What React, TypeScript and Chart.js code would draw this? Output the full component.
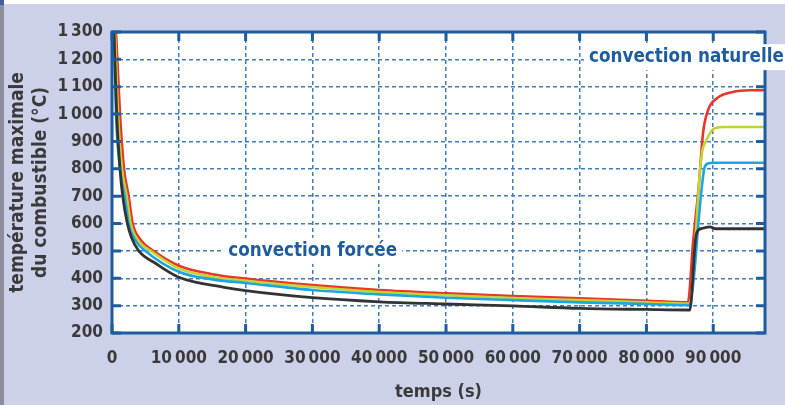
import React, { useEffect, useRef } from "react";
import { Chart, registerables } from "chart.js";

Chart.register(...registerables);

const xTickValues = [0, 10000, 20000, 30000, 40000, 50000, 60000, 70000, 80000, 90000];
const yTickValues = [200, 300, 400, 500, 600, 700, 800, 900, 1000, 1100, 1200, 1300];

const redTimes = [600, 1200, 1800, 2500, 3100, 4300, 6200, 10000, 15000, 20000, 30000, 40000, 50000, 60000, 70000, 80000, 86200, 86980, 87870, 88470, 89220, 90570, 92810, 95510, 97750];
const redTemps = [1300, 1000, 800, 700, 600, 540, 500, 446, 415, 399, 375, 357, 345, 335, 327, 318, 312, 530, 747, 930, 1014, 1058, 1080, 1087, 1087];

const yellowTimes = [450, 900, 1500, 2200, 2800, 4000, 5800, 10000, 15000, 20000, 30000, 40000, 50000, 60000, 70000, 80000, 86500, 87400, 87870, 88300, 89000, 90000, 91500, 97750];
const yellowTemps = [1300, 1000, 800, 700, 600, 535, 500, 436, 405, 391, 368, 350, 338, 328, 320, 312, 308, 564, 747, 856, 905, 945, 953, 953];

const blueTimes = [300, 600, 1200, 1900, 2500, 3600, 5000, 10000, 15000, 20000, 30000, 40000, 50000, 60000, 70000, 80000, 86400, 88300, 88700, 89300, 90000, 97750];
const blueTemps = [1300, 1000, 800, 700, 600, 535, 500, 424, 396, 383, 357, 341, 329, 320, 312, 306, 302, 735, 805, 820, 822, 822];

const blackTimes = [300, 700, 1200, 1600, 2300, 2900, 4000, 6500, 10000, 16600, 20000, 30000, 40000, 50000, 60000, 70000, 80000, 86500, 87300, 87550, 88300, 89500, 90300, 97750];
const blackTemps = [1300, 1000, 800, 700, 600, 550, 500, 455, 404, 368, 355, 329, 314, 306, 299, 290, 286, 284, 530, 567, 582, 588, 581, 581];

const seriesNames = ["noir", "bleu", "jaune", "rouge"];
const seriesColors = ["#333333", "#1ba6e2", "#c3d42f", "#e8362b"];

const forcedLabel = { text: "convection forcée", x: 17400, y: 500 };
const naturalLabel = { text: "convection naturelle", x: 71400, y: 1208 };

const toPoints = (t: number[], v: number[]) => t.map((x, i) => ({ x, y: v[i] }));

const fmt = (v: number) => {
  const s = String(Math.round(v));
  return s.length > 3 ? s.slice(0, s.length - 3) + "\u2009" + s.slice(s.length - 3) : s;
};

const BLUE = "#1d5c9f";
const GRID = "#3f7dbb";
const TEXT = "#3a3a3a";
const FONT = "'DejaVu Sans Condensed', 'DejaVu Sans', sans-serif";

export default function App() {
  const ref = useRef<HTMLCanvasElement>(null);
  useEffect(() => {
    document.body.style.margin = "0";
    const canvas = ref.current!;
    const deco = {
      id: "deco",
      beforeDraw(chart: any) {
        const { ctx, chartArea: a } = chart;
        ctx.save();
        ctx.fillStyle = "#ccd0e9";
        ctx.fillRect(0, 0, chart.width, chart.height);
        ctx.fillStyle = "#ffffff";
        ctx.fillRect(4, 0, chart.width, 4);
        ctx.fillStyle = "#8d8d9b";
        ctx.fillRect(0, 0, 4, chart.height);
        ctx.fillStyle = "#4a5aa8";
        ctx.fillRect(0, 0, 4, 5);
        ctx.fillStyle = "#ffffff";
        ctx.fillRect(a.left, a.top, a.right - a.left, a.bottom - a.top);
        ctx.restore();
      },
      afterDatasetsDraw(chart: any) {
        const { ctx, chartArea: a, scales } = chart;
        const xs = scales.x, ys = scales.y;
        ctx.save();
        ctx.strokeStyle = BLUE;
        ctx.lineWidth = 3;
        ctx.setLineDash([]);
        const L = 9;
        ctx.beginPath();
        xTickValues.forEach((v) => {
          const px = xs.getPixelForValue(v);
          ctx.moveTo(px, a.top); ctx.lineTo(px, a.top + L);
          ctx.moveTo(px, a.bottom); ctx.lineTo(px, a.bottom - L);
        });
        yTickValues.forEach((v) => {
          const py = ys.getPixelForValue(v);
          ctx.moveTo(a.left, py); ctx.lineTo(a.left + L, py);
          ctx.moveTo(a.right, py); ctx.lineTo(a.right - L, py);
        });
        ctx.stroke();
        ctx.strokeRect(a.left, a.top, a.right - a.left, a.bottom - a.top);

        const drawLabel = (lab: any, extendRight: boolean) => {
          ctx.font = `bold 18.7px ${FONT}`;
          const w = ctx.measureText(lab.text).width;
          const px = xs.getPixelForValue(lab.x);
          const py = ys.getPixelForValue(lab.y);
          ctx.fillStyle = "#ffffff";
          const right = extendRight ? chart.width : px + w + 5;
          ctx.fillRect(px - 5, py - 13, right - (px - 5), 26);
          ctx.fillStyle = BLUE;
          ctx.textBaseline = "middle";
          ctx.textAlign = "left";
          ctx.fillText(lab.text, px, py);
        };
        drawLabel(forcedLabel, false);
        drawLabel(naturalLabel, true);
        ctx.restore();
      },
    };

    const datasets = [
      toPoints(blackTimes, blackTemps),
      toPoints(blueTimes, blueTemps),
      toPoints(yellowTimes, yellowTemps),
      toPoints(redTimes, redTemps),
    ].map((data, i) => ({
      label: seriesNames[i],
      data,
      borderColor: seriesColors[i],
      borderWidth: i === 0 ? 2.8 : 2.6,
      pointRadius: 0,
      fill: false,
      cubicInterpolationMode: "monotone" as const,
    }));

    const chart = new Chart(canvas, {
      type: "line",
      data: { datasets },
      options: {
        responsive: false,
        animation: false,
        layout: { padding: { left: 0, top: 32, right: 20, bottom: 0 } },
        plugins: { legend: { display: false }, tooltip: { enabled: false } },
        scales: {
          x: {
            type: "linear",
            min: 0,
            max: 97750,
            afterBuildTicks: (s: any) => { s.ticks = xTickValues.map((value) => ({ value })); },
            afterFit: (s: any) => { s.height = 72; },
            ticks: {
              includeBounds: false,
              padding: 15,
              maxRotation: 0,
              autoSkip: false,
              color: TEXT,
              font: { family: FONT, size: 17, weight: "bold" },
              callback: (v: any) => fmt(Number(v)),
            },
            grid: { color: GRID, lineWidth: 1.5, drawTicks: false },
            border: { display: false, dash: [4, 3] },
            title: {
              display: true,
              text: "temps (s)",
              color: TEXT,
              font: { family: FONT, size: 18, weight: "bold" },
              padding: { top: 0, bottom: 2 },
            },
          },
          y: {
            type: "linear",
            min: 200,
            max: 1300,
            afterBuildTicks: (s: any) => { s.ticks = yTickValues.map((value) => ({ value })); },
            afterFit: (s: any) => { s.width = 112; },
            ticks: {
              padding: 9,
              autoSkip: false,
              color: TEXT,
              font: { family: FONT, size: 17, weight: "bold" },
              callback: (v: any) => fmt(Number(v)),
            },
            grid: { color: GRID, lineWidth: 1.5, drawTicks: false },
            border: { display: false, dash: [4, 3] },
            title: {
              display: true,
              text: ["température maximale", "du combustible (°C)"],
              color: TEXT,
              font: { family: FONT, size: 19, weight: "bold", lineHeight: 1.2 },
              padding: { top: 7, bottom: 0 },
            },
          },
        },
      },
      plugins: [deco],
    });
    return () => chart.destroy();
  }, []);
  return <canvas ref={ref} width={785} height={405} />;
}
